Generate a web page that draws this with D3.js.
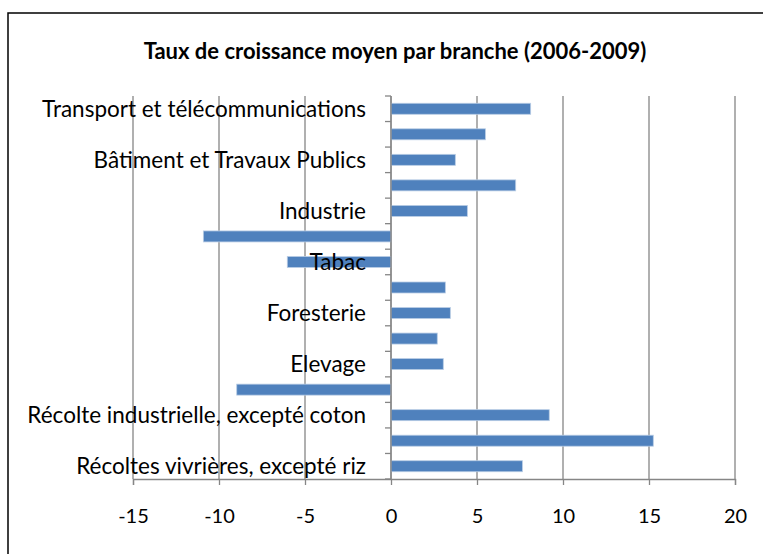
<!DOCTYPE html>
<html>
<head>
<meta charset="utf-8">
<script src="https://cdnjs.cloudflare.com/ajax/libs/d3/7.8.5/d3.min.js"></script>
<style>
  body { margin: 0; background: #fff; }
  text { font-family: Lato, "Open Sans", sans-serif; }
</style>
</head>
<body>
<script>
// branches, de bas en haut (seule une étiquette sur deux est affichée)
const branches = [
    "Récoltes vivrières, excepté riz",
    "Riz",
    "Récolte industrielle, excepté coton",
    "Coton",
    "Elevage",
    "Pêche",
    "Foresterie",
    "Industrie extractive",
    "Tabac",
    "Agro-industrie",
    "Industrie",
    "Energie",
    "Bâtiment et Travaux Publics",
    "Commerce",
    "Transport et télécommunications"
]
const taux = [7.64, 15.25, 9.2, -8.97, 3.04, 2.69, 3.45, 3.16, -6.03, -10.91, 4.44, 7.25, 3.74, 5.49, 8.12]
const ticksX = [-15, -10, -5, 0, 5, 10, 15, 20]

const svg = d3.select("body").append("svg")
    .attr("width", 763)
    .attr("height", 554)

// cadre
svg.append("rect")
    .attr("x", 8).attr("y", 13)
    .attr("width", 790).attr("height", 600)
    .attr("fill", "#fff")
    .attr("stroke", "#000")
    .attr("stroke-width", 1.5)

svg.append("text")
    .attr("x", 395).attr("y", 59)
    .attr("text-anchor", "middle")
    .style("font-size", "22px")
    .style("font-weight", "bold")
    .text("Taux de croissance moyen par branche (2006-2009)")

const x = d3.scaleLinear().domain([-15, 20]).range([133, 735])
const y = d3.scaleBand().domain(d3.range(branches.length)).range([479, 96])

// grille verticale
svg.append("g").selectAll("line")
    .data(ticksX)
    .enter()
    .append("line")
    .attr("x1", d => x(d)).attr("x2", d => x(d))
    .attr("y1", 96).attr("y2", 479)
    .attr("stroke", "#868686")
    .attr("stroke-width", 1.3)

// barres
svg.append("g").selectAll("rect")
    .data(taux)
    .enter()
    .append("rect")
    .attr("x", d => Math.min(x(0), x(d)))
    .attr("width", d => Math.abs(x(d) - x(0)))
    .attr("y", (d, i) => y(i) + y.bandwidth() / 2 - 5.5)
    .attr("height", 11)
    .attr("fill", "#4f81bd")
    .attr("stroke", "#b9cde5")
    .attr("stroke-width", 0.8)

// axe horizontal
const xAxis = svg.append("g")
    .attr("transform", "translate(0,479)")
    .call(d3.axisBottom(x).tickValues(ticksX).tickSize(6).tickPadding(24).tickFormat(d => String(d)))
xAxis.select(".domain").attr("stroke", "#868686").attr("stroke-width", 1.3)
xAxis.selectAll(".tick line").attr("stroke", "#868686").attr("stroke-width", 1.3)
xAxis.selectAll("text")
    .attr("fill", "#000")
    .style("font-size", "20px")
    .style("font-family", "Lato, sans-serif")

// axe vertical (en 0) avec graduations entre catégories
const yAxis = svg.append("g").attr("transform", `translate(${x(0)},0)`)
yAxis.append("line")
    .attr("y1", 96).attr("y2", 479)
    .attr("stroke", "#868686").attr("stroke-width", 1.3)
yAxis.selectAll("line.sep")
    .data(d3.range(branches.length + 1))
    .enter()
    .append("line")
    .attr("class", "sep")
    .attr("x1", -6).attr("x2", 0)
    .attr("y1", i => 479 - i * y.step()).attr("y2", i => 479 - i * y.step())
    .attr("stroke", "#868686").attr("stroke-width", 1.3)

// étiquettes (une sur deux)
svg.append("g").selectAll("text")
    .data(branches)
    .enter()
    .append("text")
    .attr("x", 366)
    .attr("y", (d, i) => y(i) + y.bandwidth() / 2)
    .attr("dy", "0.35em")
    .attr("text-anchor", "end")
    .style("font-size", "22.5px")
    .text((d, i) => i % 2 === 0 ? d : "")
</script>
</body>
</html>
